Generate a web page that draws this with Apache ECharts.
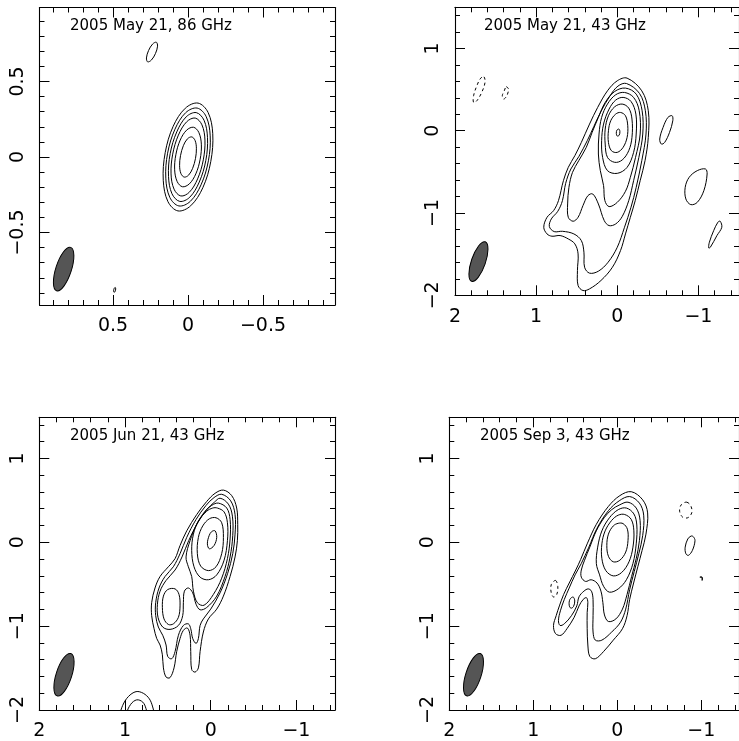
<!DOCTYPE html>
<html><head><meta charset="utf-8">
<script src="https://cdn.jsdelivr.net/npm/echarts/dist/echarts.min.js"></script>
<style>html,body{margin:0;padding:0;background:#fff}#c{width:739px;height:741px}</style>
</head><body><div id="c"></div>
<script>
// ---------- texts ----------
const panelTitles = ['2005 May 21, 86 GHz', '2005 May 21, 43 GHz', '2005 Jun 21, 43 GHz', '2005 Sep 3, 43 GHz'];

// ---------- axis ranges and ticks ----------
const p1XRange = [-0.98, 0.99];
const p1YRange = [-0.98, 0.99];
const p2XRange = [-1.5, 2];
const p2YRange = [-2, 1.5];
const p34XRange = [-1.45, 2];
const p34YRange = [-2, 1.49];
const p1Major = [-0.5, 0, 0.5];
const p1Minor = [-0.9,-0.8,-0.7,-0.6,-0.4,-0.3,-0.2,-0.1,0.1,0.2,0.3,0.4,0.6,0.7,0.8,0.9];
const jetMajorX = [-1, 0, 1, 2];
const jetMinorX = [-1.4,-1.2,-0.8,-0.6,-0.4,-0.2,0.2,0.4,0.6,0.8,1.2,1.4,1.6,1.8];
const jetMajorY = [-2, -1, 0, 1];
const jetMinorY = [-1.8,-1.6,-1.4,-1.2,-0.8,-0.6,-0.4,-0.2,0.2,0.4,0.6,0.8,1.2,1.4];

// ---------- beams: [x, y, semi-major, semi-minor, tilt deg] ----------
const p1Beam = [[0.829, -0.742, 0.151, 0.052, -18]];
const p2Beam = [[1.711, -1.59, 0.254, 0.087, -19]];
const p3Beam = [[1.712, -1.579, 0.265, 0.091, -18]];
const p4Beam = [[1.712, -1.579, 0.265, 0.091, -18]];

// ---------- panel 1 contours (86 GHz) ----------
const p1Contours = [
 [[-0.067,0.357],[0.018,0.323],[0.099,0.203],[0.152,0.029],[0.165,-0.154],[0.134,-0.295],[0.067,-0.357],[-0.018,-0.323],[-0.099,-0.203],[-0.152,-0.029],[-0.165,0.154],[-0.134,0.295]],
 [[-0.061,0.324],[0.015,0.294],[0.087,0.184],[0.136,0.025],[0.148,-0.140],[0.121,-0.268],[0.061,-0.324],[-0.015,-0.294],[-0.087,-0.184],[-0.136,-0.025],[-0.148,0.140],[-0.121,0.268]],
 [[-0.055,0.294],[0.012,0.266],[0.075,0.166],[0.119,0.022],[0.130,-0.128],[0.107,-0.243],[0.055,-0.294],[-0.012,-0.266],[-0.075,-0.166],[-0.119,-0.022],[-0.130,0.128],[-0.107,0.243]],
 [[-0.048,0.258],[0.009,0.233],[0.064,0.145],[0.102,0.019],[0.113,-0.112],[0.093,-0.213],[0.048,-0.258],[-0.009,-0.233],[-0.064,-0.145],[-0.102,-0.019],[-0.113,0.112],[-0.093,0.213]],
 [[-0.037,0.197],[0.009,0.178],[0.052,0.112],[0.081,0.015],[0.089,-0.085],[0.072,-0.163],[0.037,-0.197],[-0.009,-0.178],[-0.052,-0.112],[-0.081,-0.015],[-0.089,0.085],[-0.072,0.163]],
 [[-0.025,0.133],[0.004,0.120],[0.031,0.075],[0.050,0.009],[0.056,-0.058],[0.047,-0.110],[0.025,-0.133],[-0.004,-0.120],[-0.031,-0.075],[-0.050,-0.009],[-0.056,0.058],[-0.047,0.110]],
 [[0.211,0.760],[0.236,0.748],[0.263,0.705],[0.277,0.656],[0.269,0.630],[0.244,0.642],[0.217,0.685],[0.203,0.734]],
 [[0.485,-0.864],[0.492,-0.870],[0.496,-0.886],[0.493,-0.896],[0.486,-0.890],[0.482,-0.874]]
];
const p1Dashed = [];

// ---------- panel 2 contours (May 21, 43 GHz) ----------
const p2Contours = [
 [[-0.121,0.639],[-0.302,0.485],[-0.382,0.243],[-0.382,-0.081],[-0.342,-0.364],[-0.282,-0.607],[-0.221,-0.850],[-0.161,-1.052],[-0.101,-1.254],[-0.040,-1.456],[0.060,-1.659],[0.201,-1.820],[0.342,-1.922],[0.423,-1.942],[0.483,-1.881],[0.491,-1.699],[0.483,-1.497],[0.523,-1.375],[0.604,-1.315],[0.705,-1.274],[0.805,-1.282],[0.866,-1.254],[0.906,-1.173],[0.866,-1.052],[0.785,-0.971],[0.725,-0.850],[0.664,-0.607],[0.604,-0.445],[0.523,-0.303],[0.443,-0.142],[0.342,0.081],[0.242,0.283],[0.121,0.485],[0.0,0.607]],
 [[-0.113,0.574],[-0.274,0.453],[-0.346,0.243],[-0.354,-0.040],[-0.302,-0.364],[-0.233,-0.688],[-0.169,-0.930],[-0.089,-1.173],[0.0,-1.416],[0.113,-1.598],[0.233,-1.707],[0.342,-1.731],[0.403,-1.659],[0.411,-1.476],[0.443,-1.335],[0.535,-1.254],[0.676,-1.222],[0.777,-1.226],[0.837,-1.165],[0.813,-1.072],[0.733,-0.979],[0.676,-0.850],[0.636,-0.639],[0.572,-0.465],[0.475,-0.316],[0.370,-0.121],[0.290,0.049],[0.201,0.235],[0.089,0.425],[-0.008,0.542]],
 [[-0.101,0.518],[-0.233,0.445],[-0.306,0.243],[-0.314,-0.040],[-0.266,-0.324],[-0.201,-0.607],[-0.141,-0.850],[-0.060,-1.044],[0.020,-1.133],[0.101,-1.153],[0.161,-1.092],[0.233,-0.890],[0.302,-0.769],[0.362,-0.789],[0.423,-0.910],[0.483,-1.052],[0.544,-1.100],[0.604,-1.052],[0.612,-0.890],[0.596,-0.688],[0.552,-0.506],[0.475,-0.364],[0.382,-0.202],[0.310,-0.020],[0.233,0.162],[0.149,0.344],[0.032,0.477]],
 [[-0.089,0.465],[-0.201,0.405],[-0.270,0.243],[-0.282,-0.040],[-0.225,-0.324],[-0.161,-0.566],[-0.101,-0.736],[0,-0.870],[0.101,-0.922],[0.153,-0.849],[0.169,-0.667],[0.209,-0.485],[0.233,-0.283],[0.225,-0.040],[0.193,0.162],[0.121,0.324],[0.020,0.437]],
 [[-0.072,0.405],[-0.169,0.356],[-0.229,0.202],[-0.233,-0.040],[-0.201,-0.263],[-0.121,-0.445],[0,-0.518],[0.121,-0.485],[0.181,-0.324],[0.193,-0.121],[0.169,0.081],[0.101,0.263],[0.020,0.372]],
 [[-0.060,0.324],[-0.141,0.275],[-0.181,0.142],[-0.181,-0.081],[-0.141,-0.243],[-0.060,-0.356],[0.032,-0.384],[0.121,-0.324],[0.149,-0.162],[0.149,0.020],[0.109,0.182],[0.032,0.291]],
 [[-0.040,0.222],[-0.101,0.182],[-0.129,0.061],[-0.121,-0.081],[-0.072,-0.202],[0,-0.263],[0.072,-0.243],[0.109,-0.142],[0.109,0],[0.081,0.121],[0.020,0.202]],
 [[-0.020,0.020],[-0.032,-0.008],[-0.024,-0.053],[0,-0.065],[0.012,-0.032],[0.004,0.008]],
 [[-0.676,0.182],[-0.684,0.121],[-0.644,-0.020],[-0.584,-0.142],[-0.543,-0.162],[-0.523,-0.101],[-0.564,0.040],[-0.624,0.162]],
 [[-1.087,-0.465],[-1.107,-0.526],[-1.067,-0.728],[-0.986,-0.870],[-0.906,-0.898],[-0.845,-0.829],[-0.837,-0.688],[-0.886,-0.566],[-0.986,-0.485]],
 [[-1.268,-1.100],[-1.288,-1.173],[-1.228,-1.274],[-1.147,-1.416],[-1.127,-1.424],[-1.135,-1.355],[-1.188,-1.214],[-1.240,-1.112]],
 [[1.643,0.655],[1.630,0.587],[1.671,0.465],[1.731,0.364],[1.771,0.344],[1.771,0.425],[1.731,0.546],[1.683,0.639]],
 [[1.369,0.534],[1.341,0.506],[1.361,0.425],[1.401,0.384],[1.417,0.425],[1.393,0.485]]
];
const p2Dashed = [11, 12];

// ---------- panel 3 contours (Jun 21, 43 GHz) ----------
const p3Contours = [
 [[0.027,-0.914],[0.086,-1.070],[0.124,-1.303],[0.144,-1.498],[0.183,-1.548],[0.222,-1.517],[0.233,-1.303],[0.241,-1.109],[0.272,-1.023],[0.319,-1.050],[0.358,-1.148],[0.397,-1.303],[0.428,-1.498],[0.475,-1.614],[0.521,-1.607],[0.552,-1.498],[0.564,-1.342],[0.591,-1.225],[0.630,-1.148],[0.661,-1.031],[0.689,-0.875],[0.689,-0.720],[0.650,-0.545],[0.591,-0.408],[0.494,-0.292],[0.416,-0.195],[0.358,-0.039],[0.280,0.136],[0.163,0.331],[0.047,0.486],[-0.051,0.584],[-0.148,0.622],[-0.245,0.556],[-0.303,0.408],[-0.315,0.214],[-0.311,0.019],[-0.284,-0.175],[-0.226,-0.408],[-0.148,-0.642],[-0.070,-0.797]],
 [[-0.128,0.572],[-0.233,0.494],[-0.284,0.331],[-0.284,0.097],[-0.257,-0.136],[-0.198,-0.370],[-0.109,-0.603],[0,-0.797],[0.086,-0.914],[0.124,-0.992],[0.144,-1.148],[0.171,-1.206],[0.210,-1.148],[0.233,-1.031],[0.261,-0.973],[0.319,-0.992],[0.377,-1.109],[0.416,-1.303],[0.455,-1.389],[0.502,-1.361],[0.521,-1.225],[0.560,-1.109],[0.611,-1.011],[0.642,-0.875],[0.642,-0.720],[0.603,-0.545],[0.533,-0.408],[0.436,-0.292],[0.358,-0.136],[0.280,0.058],[0.171,0.272],[0.054,0.440],[-0.039,0.533]],
 [[-0.109,0.525],[-0.206,0.455],[-0.253,0.311],[-0.257,0.078],[-0.226,-0.175],[-0.167,-0.408],[-0.070,-0.642],[0.047,-0.778],[0.124,-0.805],[0.171,-0.739],[0.210,-0.603],[0.261,-0.545],[0.307,-0.583],[0.319,-0.720],[0.327,-0.875],[0.377,-0.992],[0.475,-1.039],[0.560,-1.011],[0.615,-0.895],[0.622,-0.739],[0.591,-0.583],[0.521,-0.455],[0.416,-0.331],[0.335,-0.175],[0.257,0.019],[0.152,0.233],[0.039,0.397],[-0.043,0.478]],
 [[-0.089,0.467],[-0.187,0.408],[-0.226,0.272],[-0.226,0.039],[-0.195,-0.195],[-0.128,-0.428],[-0.031,-0.622],[0.078,-0.751],[0.156,-0.720],[0.202,-0.583],[0.222,-0.408],[0.261,-0.292],[0.288,-0.175],[0.241,0.019],[0.163,0.214],[0.066,0.370],[-0.012,0.440]],
 [[-0.078,0.408],[-0.156,0.362],[-0.195,0.233],[-0.195,0.019],[-0.156,-0.214],[-0.070,-0.389],[0.027,-0.447],[0.124,-0.416],[0.195,-0.292],[0.222,-0.097],[0.202,0.097],[0.144,0.253],[0.047,0.370],[-0.023,0.408]],
 [[-0.062,0.292],[-0.128,0.233],[-0.148,0.058],[-0.128,-0.136],[-0.062,-0.292],[0.027,-0.338],[0.117,-0.284],[0.156,-0.136],[0.144,0.058],[0.093,0.195],[0.016,0.280]],
 [[-0.051,0.136],[-0.070,0.058],[-0.039,-0.039],[0.016,-0.078],[0.039,-0.019],[0.019,0.078],[-0.012,0.128]],
 [[0.416,-0.556],[0.370,-0.622],[0.358,-0.759],[0.377,-0.895],[0.436,-0.973],[0.494,-0.980],[0.545,-0.914],[0.564,-0.778],[0.552,-0.642],[0.502,-0.564]],
 [[1.058,-2.061],[1.027,-1.945],[0.961,-1.840],[0.871,-1.781],[0.786,-1.801],[0.716,-1.867],[0.677,-1.964],[0.661,-2.061],[0.688,-2.159],[0.863,-2.217],[1.039,-2.159]],
 [[0.972,-2.042],[0.934,-1.933],[0.863,-1.879],[0.793,-1.906],[0.755,-1.984],[0.747,-2.061],[0.863,-2.159]]
];
const p3Dashed = [];

// ---------- panel 4 contours (Sep 3, 43 GHz) ----------
const p4Contours = [
 [[-0.167,0.603],[-0.303,0.506],[-0.362,0.350],[-0.342,0.097],[-0.296,-0.097],[-0.245,-0.292],[-0.195,-0.486],[-0.148,-0.681],[-0.117,-0.875],[-0.062,-1.031],[0.047,-1.167],[0.163,-1.303],[0.261,-1.389],[0.327,-1.361],[0.350,-1.225],[0.358,-1.031],[0.358,-0.836],[0.350,-0.720],[0.366,-0.661],[0.405,-0.681],[0.455,-0.759],[0.513,-0.895],[0.599,-1.031],[0.669,-1.109],[0.735,-1.089],[0.759,-0.992],[0.727,-0.875],[0.689,-0.759],[0.638,-0.622],[0.572,-0.486],[0.494,-0.331],[0.436,-0.206],[0.358,-0.019],[0.249,0.214],[0.105,0.428],[-0.031,0.556]],
 [[-0.148,0.545],[-0.264,0.467],[-0.315,0.323],[-0.303,0.078],[-0.257,-0.136],[-0.202,-0.350],[-0.148,-0.564],[-0.101,-0.797],[-0.039,-0.953],[0.066,-1.070],[0.183,-1.167],[0.261,-1.167],[0.288,-1.070],[0.288,-0.875],[0.288,-0.681],[0.307,-0.583],[0.346,-0.556],[0.397,-0.583],[0.455,-0.650],[0.482,-0.759],[0.545,-0.875],[0.630,-0.972],[0.681,-0.992],[0.700,-0.934],[0.677,-0.817],[0.630,-0.681],[0.572,-0.545],[0.502,-0.389],[0.428,-0.253],[0.338,-0.058],[0.241,0.167],[0.105,0.377],[-0.023,0.494]],
 [[-0.128,0.478],[-0.226,0.408],[-0.272,0.261],[-0.264,0.019],[-0.226,-0.195],[-0.171,-0.408],[-0.117,-0.622],[-0.062,-0.797],[0.016,-0.914],[0.105,-0.945],[0.152,-0.867],[0.171,-0.720],[0.194,-0.583],[0.241,-0.486],[0.311,-0.447],[0.377,-0.467],[0.428,-0.416],[0.428,-0.331],[0.389,-0.214],[0.327,-0.058],[0.249,0.136],[0.156,0.292],[0.066,0.389],[-0.031,0.447]],
 [[-0.109,0.408],[-0.198,0.338],[-0.233,0.206],[-0.226,-0.019],[-0.187,-0.253],[-0.109,-0.447],[-0.012,-0.556],[0.093,-0.595],[0.163,-0.525],[0.210,-0.389],[0.249,-0.253],[0.233,-0.058],[0.183,0.136],[0.093,0.292],[-0.012,0.389]],
 [[-0.089,0.331],[-0.167,0.272],[-0.198,0.136],[-0.187,-0.058],[-0.140,-0.233],[-0.051,-0.362],[0.047,-0.401],[0.136,-0.338],[0.183,-0.195],[0.183,-0.019],[0.144,0.136],[0.066,0.261],[-0.012,0.323]],
 [[-0.070,0.222],[-0.121,0.156],[-0.128,0.019],[-0.101,-0.117],[-0.031,-0.214],[0.047,-0.233],[0.105,-0.167],[0.124,-0.039],[0.105,0.097],[0.047,0.195],[-0.012,0.226]],
 [[0.525,-0.653],[0.506,-0.700],[0.521,-0.766],[0.552,-0.786],[0.572,-0.751],[0.564,-0.681]],
 [[-0.828,0.478],[-0.879,0.428],[-0.887,0.350],[-0.840,0.292],[-0.778,0.300],[-0.743,0.370],[-0.762,0.447]],
 [[-0.906,0.066],[-0.926,0.019],[-0.895,-0.097],[-0.848,-0.156],[-0.817,-0.136],[-0.809,-0.058],[-0.840,0.039],[-0.879,0.074]],
 [[-0.984,-0.416],[-1.011,-0.416],[-1.011,-0.455],[-1.008,-0.420]],
 [[0.735,-0.455],[0.708,-0.525],[0.720,-0.622],[0.758,-0.653],[0.786,-0.603],[0.786,-0.506]]
];
const p4Dashed = [7, 10];

// ---------- layout ----------
const grids = [
  {left: 39.5, top: 7.5, width: 295.5, height: 297.5},
  {left: 455, top: 7.3, width: 289.8, height: 288},
  {left: 39.3, top: 417.3, width: 295.7, height: 298.7},
  {left: 449.3, top: 417.3, width: 295.7, height: 298.7}
];
const titlePos = [[70, 19], [484, 19], [70, 429], [480, 429]];
const panels = [
  {xr: p1XRange, yr: p1YRange, xM: p1Major, xm: p1Minor, yM: p1Major, ym: p1Minor, contours: p1Contours, dashed: p1Dashed, beam: p1Beam},
  {xr: p2XRange, yr: p2YRange, xM: jetMajorX, xm: jetMinorX, yM: jetMajorY, ym: jetMinorY, contours: p2Contours, dashed: p2Dashed, beam: p2Beam},
  {xr: p34XRange, yr: p34YRange, xM: jetMajorX, xm: jetMinorX, yM: jetMajorY, ym: jetMinorY, contours: p3Contours, dashed: p3Dashed, beam: p3Beam},
  {xr: p34XRange, yr: p34YRange, xM: jetMajorX, xm: jetMinorX, yM: jetMajorY, ym: jetMinorY, contours: p4Contours, dashed: p4Dashed, beam: p4Beam}
];

const FONT = 'DejaVu Sans';
const fmt = v => (v < 0 ? '\u2212' + Math.abs(v) : String(v));
function mkAxis(g, range, pos, ticks, len, showLine, labels, inverse, isY) {
  return {
    type: 'value', gridIndex: g, min: range[0], max: range[1], inverse: inverse, position: pos,
    axisLine: {show: showLine, onZero: false, lineStyle: {color: '#000', width: 1.1}},
    axisTick: {show: true, inside: true, length: len, customValues: ticks, lineStyle: {color: '#000', width: 1}},
    axisLabel: labels ? {show: true, customValues: labels, formatter: fmt, margin: isY ? 12 : 12, rotate: isY ? 90 : 0,
      fontSize: 19, fontFamily: FONT, color: '#000'} : {show: false},
    splitLine: {show: false}, minorTick: {show: false}, axisPointer: {show: false}
  };
}
const xAxes = [], yAxes = [], series = [], titles = [];
panels.forEach((p, g) => {
  xAxes.push(mkAxis(g, p.xr, 'bottom', p.xM, 10, true, p.xM, true, false));
  xAxes.push(mkAxis(g, p.xr, 'bottom', p.xm, 5, false, null, true, false));
  xAxes.push(mkAxis(g, p.xr, 'top', p.xM, 10, true, null, true, false));
  xAxes.push(mkAxis(g, p.xr, 'top', p.xm, 5, false, null, true, false));
  yAxes.push(mkAxis(g, p.yr, 'left', p.yM, 10, true, p.yM, false, true));
  yAxes.push(mkAxis(g, p.yr, 'left', p.ym, 5, false, null, false, true));
  yAxes.push(mkAxis(g, p.yr, 'right', p.yM, 10, true, null, false, true));
  yAxes.push(mkAxis(g, p.yr, 'right', p.ym, 5, false, null, false, true));
  const list = p.contours, dashed = p.dashed;
  series.push({
    type: 'custom', xAxisIndex: g * 4, yAxisIndex: g * 4, clip: true, silent: true, z: 3,
    data: list.map((c, i) => [c[0][0], c[0][1], i]),
    renderItem: (params, api) => {
      const c = list[params.dataIndex];
      const pts = c.map(pt => api.coord(pt));
      return {type: 'polygon', shape: {points: pts, smooth: 0.35},
        style: {fill: 'none', stroke: '#000', lineWidth: 1, lineDash: dashed.indexOf(params.dataIndex) >= 0 ? [3, 3] : null}};
    }
  });
  series.push({
    type: 'custom', xAxisIndex: g * 4, yAxisIndex: g * 4, clip: true, silent: true, z: 2,
    data: p.beam,
    renderItem: (params, api) => {
      const c = api.coord([api.value(0), api.value(1)]);
      const sz = api.size([api.value(3), api.value(2)]);
      return {type: 'ellipse', x: c[0], y: c[1], rotation: api.value(4) * Math.PI / 180,
        shape: {cx: 0, cy: 0, rx: sz[0], ry: sz[1]},
        style: {fill: '#555555', stroke: '#000', lineWidth: 1}};
    }
  });
  titles.push({text: panelTitles[g], left: titlePos[g][0], top: titlePos[g][1], padding: 0,
    textStyle: {fontFamily: FONT, fontSize: 15, fontWeight: 'normal', color: '#000'}});
});

const chart = echarts.init(document.getElementById('c'), null, {renderer: 'canvas'});
chart.setOption({
  animation: false, backgroundColor: '#fff',
  title: titles,
  grid: grids.map(gr => Object.assign({containLabel: false}, gr)),
  xAxis: xAxes, yAxis: yAxes, series: series
});
</script></body></html>
